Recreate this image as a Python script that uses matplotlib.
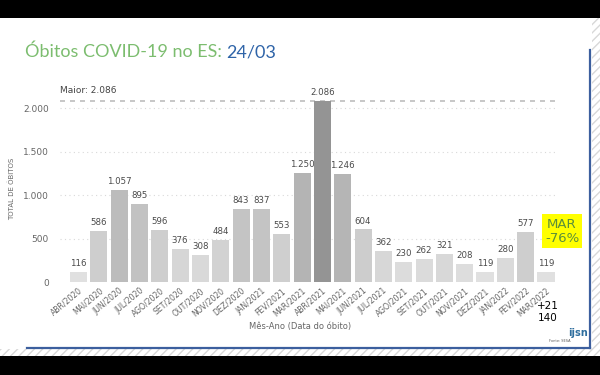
import matplotlib
matplotlib.use("Agg")
import matplotlib.pyplot as plt
from matplotlib.patches import Rectangle
from matplotlib.lines import Line2D
import numpy as np

# data
meses = ["ABR/2020", "MAI/2020", "JUN/2020", "JUL/2020", "AGO/2020", "SET/2020",
         "OUT/2020", "NOV/2020", "DEZ/2020", "JAN/2021", "FEV/2021", "MAR/2021",
         "ABR/2021", "MAI/2021", "JUN/2021", "JUL/2021", "AGO/2021", "SET/2021",
         "OUT/2021", "NOV/2021", "DEZ/2021", "JAN/2022", "FEV/2022", "MAR/2022"]
obitos = [116, 586, 1057, 895, 596, 376, 308, 484, 843, 837, 553, 1250,
          2086, 1246, 604, 362, 230, 262, 321, 208, 119, 280, 577, 119]
yticks = [0, 500, 1000, 1500, 2000]
maior = max(obitos)

def br(n):
    return f"{n:,}".replace(",", ".")

W, H = 600, 375
fig = plt.figure(figsize=(6, 3.75), dpi=100)
fig.patch.set_facecolor("white")

def fx(px):
    return px / W

def fy(py):
    return 1 - py / H

# slide frame: black bands, hatched margin, blue border
fig.patches.append(Rectangle((0, fy(18)), 1, 18 / H, transform=fig.transFigure,
                             facecolor="black", edgecolor="none", zorder=0))
fig.patches.append(Rectangle((0, 0), 1, 19 / H, transform=fig.transFigure,
                             facecolor="black", edgecolor="none", zorder=0))
fig.patches.append(Rectangle((fx(592), fy(356)), 8 / W, 338 / H, transform=fig.transFigure,
                             facecolor="white", edgecolor="#d8d8d8", hatch="////",
                             linewidth=0, zorder=0))
fig.patches.append(Rectangle((0, fy(356)), fx(592), 7 / H, transform=fig.transFigure,
                             facecolor="white", edgecolor="#d8d8d8", hatch="////",
                             linewidth=0, zorder=0))
fig.lines.append(Line2D([fx(27), fx(590)], [fy(348), fy(348)], transform=fig.transFigure,
                        color="#3c5f9e", linewidth=1.6))
fig.lines.append(Line2D([fx(590), fx(590)], [fy(50), fy(348)], transform=fig.transFigure,
                        color="#3c5f9e", linewidth=1.6))

# title
t = fig.text(fx(25), fy(57), "Óbitos COVID-19 no ES: ", fontsize=13, color="#7cbd6f",
             family="Lato")
fig.canvas.draw()
bb = t.get_window_extent()
fig.text(bb.x1 / fig.bbox.width, fy(57), "24/03", fontsize=13, color="#2f64a8",
         family="Lato")

# chart
ax = fig.add_axes([fx(60), fy(282), (558 - 60) / W, (282 - 95) / H])
x = np.arange(len(obitos))
lo, hi = min(obitos), maior
cores = []
for v in obitos:
    f = (v - lo) / (hi - lo)
    g = 0.88 - f * (0.88 - 0.58)
    cores.append((g, g, g))
ax.bar(x, obitos, width=0.84, color=cores, zorder=2)

for xi, v in zip(x, obitos):
    ax.text(xi, v + 45, br(v), ha="center", va="bottom", fontsize=6.2, color="#4a4a4a")

ax.set_xlim(-0.91, 23.59)
ax.set_ylim(0, 2150)
ax.set_yticks(yticks)
ax.set_yticklabels([br(v) for v in yticks], fontsize=6.5, color="#666666")
for v in yticks[1:]:
    ax.axhline(v, color="#d9d9d9", linestyle=(0, (1, 3)), linewidth=0.8, zorder=1)
ax.axhline(maior, color="#bdbdbd", linestyle=(0, (3, 3)), linewidth=1.2, zorder=1)
ax.text(0.0, maior + 60, "Maior: " + br(maior), fontsize=6.5, color="#444444",
        transform=ax.get_yaxis_transform(), ha="left", va="bottom")

ax.set_xticks(x)
ax.set_xticklabels(meses, rotation=40, ha="right", rotation_mode="anchor",
                   fontsize=5.6, color="#666666")
ax.tick_params(length=0, pad=3)
ax.tick_params(axis="y", pad=8)
for s in ax.spines.values():
    s.set_visible(False)

ax.set_ylabel("TOTAL DE ÓBITOS", fontsize=5, color="#666666", labelpad=6)
fig.text(fx(300), fy(326), "Mês-Ano (Data do óbito)", fontsize=6, color="#666666",
         ha="center", va="center")

# destaque do mês atual
fig.text(fx(562), fy(231), "MAR\n-76%", fontsize=9.5, color="#5b8f3a", ha="center",
         va="center", linespacing=1.1,
         bbox=dict(boxstyle="square,pad=0.25", facecolor="#ffff00", edgecolor="none"))
fig.text(fx(548), fy(312), "+21\n140", fontsize=7.5, color="black", ha="center",
         va="center", linespacing=1.3)
fig.text(fx(560), fy(342), "Fonte: SESA", fontsize=2.5, color="#555555", ha="center")
fig.text(fx(578), fy(333), "ijsn", fontsize=7, color="#2f6e9e", ha="center",
         va="center", fontweight="bold")

fig.savefig("out.png", dpi=100)
